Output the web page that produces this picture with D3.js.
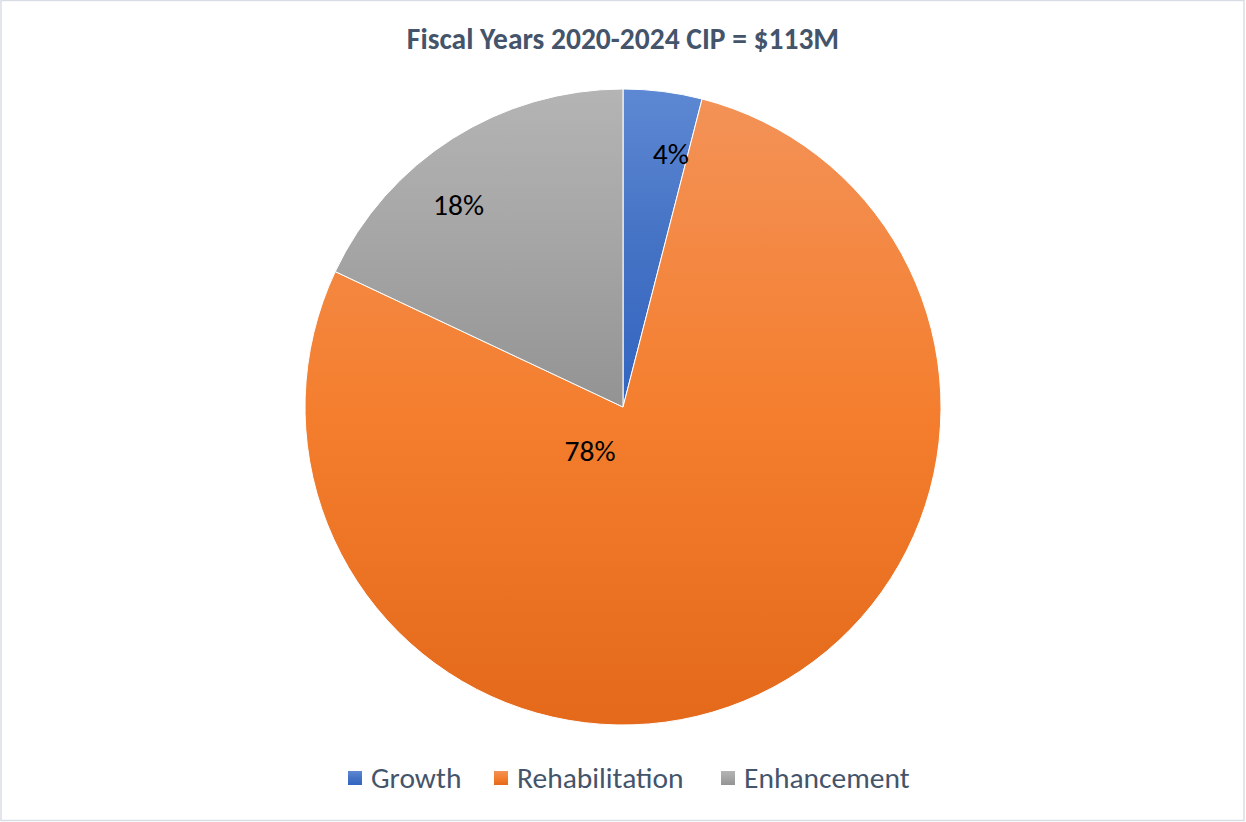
<!DOCTYPE html>
<html>
<head>
<meta charset="utf-8">
<script src="https://cdn.jsdelivr.net/npm/d3@7/dist/d3.min.js"></script>
<style>
  html, body { margin: 0; padding: 0; background: #fff; }
  svg { display: block; }
</style>
</head>
<body>
<svg id="chart" width="1246" height="822"></svg>
<script>
// Capital Improvement Program split by category
const categories = ["Growth", "Rehabilitation", "Enhancement"];
const shares = [4, 78, 18];
const valueLabels = ["4%", "78%", "18%"];
const titleText = "Fiscal Years 2020-2024 CIP = $113M";

// Gradient stops for each category (top, middle, bottom)
const palette = [
  ["#5d88d3", "#4472c4", "#3265c2"],
  ["#f39257", "#f47e2e", "#e4691a"],
  ["#b4b4b4", "#a5a5a5", "#939393"]
];

const W = 1246, H = 822;
const svg = d3.select("#chart");
const font = "Carlito, Lato, 'Open Sans', sans-serif";

// outer frame
svg.append("rect")
  .attr("x", 1).attr("y", 0.5)
  .attr("width", W - 3).attr("height", H - 2)
  .attr("fill", "#fff")
  .attr("stroke", "#d9dde5").attr("stroke-width", 1.5);

const defs = svg.append("defs");
palette.forEach((c, i) => {
  const g = defs.append("linearGradient")
    .attr("id", "grad" + i)
    .attr("x1", 0).attr("y1", 0).attr("x2", 0).attr("y2", 1);
  c.forEach((col, k) => {
    g.append("stop").attr("offset", (k / (c.length - 1) * 100) + "%").attr("stop-color", col);
  });
});

// title
svg.append("text")
  .attr("x", 623).attr("y", 49)
  .attr("text-anchor", "middle")
  .attr("font-family", font)
  .attr("font-weight", "bold")
  .attr("font-size", 29.5)
  .attr("fill", "#44546a")
  .text(titleText);

// pie
const cx = 623, cy = 407, R = 318;
const pie = d3.pie().sort(null).value(d => d.v);
const data = pie(categories.map((c, i) => ({ c, v: shares[i], label: valueLabels[i], i })));
const arc = d3.arc().innerRadius(0).outerRadius(R);

const g = svg.append("g").attr("transform", `translate(${cx},${cy})`);
g.selectAll("path.slice")
  .data(data)
  .join("path")
  .attr("class", "slice")
  .attr("d", arc)
  .attr("fill", d => `url(#grad${d.data.i})`)
  .attr("stroke", "#fff")
  .attr("stroke-width", 1);

// label placement: angular shift (deg) from slice mid-angle and radius fraction
const labelPlace = [
  { shift: 3.5, r: 0.81 },
  { shift: 62, r: 0.173 },
  { shift: -6.7, r: 0.82 }
];
g.selectAll("text.val")
  .data(data)
  .join("text")
  .attr("class", "val")
  .each(function (d) {
    const p = labelPlace[d.data.i];
    const a = (d.startAngle + d.endAngle) / 2 + p.shift * Math.PI / 180;
    const rr = p.r * R;
    d3.select(this)
      .attr("x", rr * Math.sin(a))
      .attr("y", -rr * Math.cos(a));
  })
  .attr("text-anchor", "middle")
  .attr("dominant-baseline", "central")
  .attr("font-family", font)
  .attr("font-size", 29.5)
  .attr("fill", "#000")
  .text(d => d.data.label);

// legend
const legendX = [348, 494, 721];
const legend = svg.append("g");
categories.forEach((c, i) => {
  legend.append("rect")
    .attr("x", legendX[i]).attr("y", 771)
    .attr("width", 14).attr("height", 14)
    .attr("fill", `url(#grad${i})`);
  legend.append("text")
    .attr("x", legendX[i] + 23).attr("y", 788)
    .attr("font-family", font)
    .attr("font-size", 29.5)
    .attr("fill", "#44546a")
    .text(c);
});
</script>
</body>
</html>
